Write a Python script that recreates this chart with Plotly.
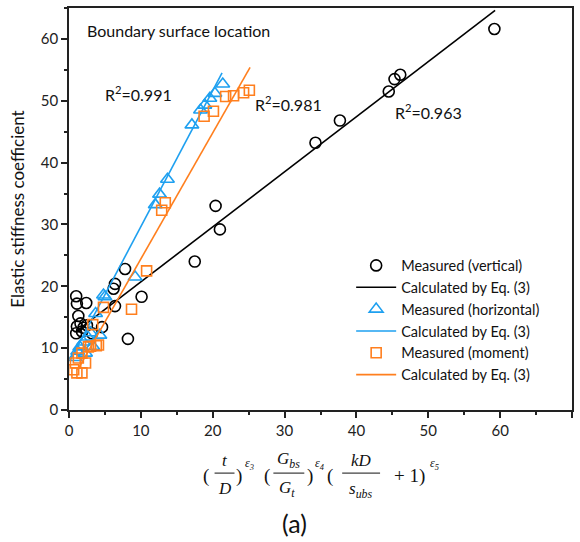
import plotly.graph_objects as go

# ---------------- data ----------------
vert_x = [1.0, 1.1, 2.4, 1.3, 1.6, 1.1, 2.5, 1.0, 1.8, 3.2, 2.0, 4.6, 6.4, 6.2, 6.4, 7.8, 8.2, 10.1,
          17.5, 21.0, 20.4, 34.3, 37.7, 44.5, 45.3, 46.1, 59.2]
vert_y = [18.4, 17.2, 17.3, 15.2, 14.0, 13.5, 13.7, 12.4, 12.7, 12.4, 13.3, 13.4, 16.8, 19.6, 20.4, 22.8, 11.5, 18.3,
          24.0, 29.2, 33.0, 43.2, 46.8, 51.5, 53.5, 54.2, 61.6]

hori_x = [0.8, 1.2, 1.5, 2.0, 2.3, 2.6, 3.0, 3.3, 3.7, 4.3, 4.8, 5.0, 9.2, 12.0, 12.6, 13.7,
          17.1, 18.3, 18.9, 19.6, 20.3, 21.4]
hori_y = [8.5, 9.5, 10.2, 11.0, 9.2, 11.8, 12.5, 10.3, 15.6, 12.1, 18.6, 18.3, 21.5, 33.2, 34.9, 37.3,
          46.1, 48.5, 49.3, 50.4, 51.2, 52.7]

mom_x = [0.65, 0.9, 1.1, 1.3, 1.8, 1.8, 2.3, 2.7, 3.0, 3.3, 3.8, 4.1, 4.8, 8.7, 10.8, 12.9, 13.4,
         18.8, 20.1, 21.8, 22.9, 24.3, 25.1]
mom_y = [6.5, 7.6, 6.0, 8.4, 9.2, 6.0, 7.6, 10.2, 10.3, 13.8, 10.4, 10.5, 16.6, 16.3, 22.5, 32.3, 33.5,
         47.5, 48.3, 50.7, 50.8, 51.3, 51.7]

fit_vert_x = [1.0, 59.3]
fit_vert_y = [12.7, 64.6]
fit_hori_x = [0.2, 21.3]
fit_hori_y = [8.1, 54.5]
fit_mom_x = [1.2, 25.2]
fit_mom_y = [6.5, 55.4]

x_ticks = [0, 10, 20, 30, 40, 50, 60, 70]
y_ticks = [0, 10, 20, 30, 40, 50, 60]

BLACK = "#000000"
BLUE = "#1ea0f0"
ORANGE = "#ff7f1e"
FONT = "Lato"

fig = go.Figure()
fig.add_trace(go.Scatter(x=vert_x, y=vert_y, mode="markers", name="Measured (vertical)",
                         marker=dict(symbol="circle-open", size=11, color=BLACK, line=dict(width=1.6))))
fig.add_trace(go.Scatter(x=fit_vert_x, y=fit_vert_y, mode="lines", name="Calculated by Eq. (3)",
                         line=dict(color=BLACK, width=1.6)))
fig.add_trace(go.Scatter(x=hori_x, y=hori_y, mode="markers", name="Measured (horizontal)",
                         marker=dict(symbol="triangle-up-open", size=12, color=BLUE, line=dict(width=1.6))))
fig.add_trace(go.Scatter(x=fit_hori_x, y=fit_hori_y, mode="lines", name="Calculated by Eq. (3)",
                         line=dict(color=BLUE, width=1.6)))
fig.add_trace(go.Scatter(x=mom_x, y=mom_y, mode="markers", name="Measured (moment)",
                         marker=dict(symbol="square-open", size=10, color=ORANGE, line=dict(width=1.6))))
fig.add_trace(go.Scatter(x=fit_mom_x, y=fit_mom_y, mode="lines", name="Calculated by Eq. (3)",
                         line=dict(color=ORANGE, width=1.6)))

L, R, T, B = 69, 6.5, 6, 131.5
W, H = 580, 542
PW, PH = W - L - R, H - T - B


def px(xp):
    return (xp - L) / PW


def py(yp):
    return 1 - (yp - T) / PH


axis_common = dict(showline=True, linecolor="#222222", linewidth=1.5, mirror=True,
                   ticks="outside", ticklen=6, tickwidth=1.5, tickcolor="#222222",
                   showgrid=False, zeroline=False,
                   tickfont=dict(family=FONT, size=15, color="#222222"),
                   minor=dict(ticks="outside", ticklen=3.5, tickwidth=1.5, tickcolor="#222222", dtick=5))

fig.update_xaxes(range=[0, 70], tickvals=x_ticks, **axis_common)
fig.update_yaxes(range=[0, 65], tickvals=y_ticks,
                 title=dict(text="Elastic stiffness coefficient", font=dict(family=FONT, size=17, color="#111111"),
                            standoff=12),
                 **axis_common)

ann = []
ann.append(dict(x=2.2, y=61.3, xref="x", yref="y", text="Boundary surface location", showarrow=False,
                xanchor="left", yanchor="middle", font=dict(family=FONT, size=16, color="#111111")))
for (xx, yy, t) in [(4.8, 51.2, "R<sup>2</sup>=0.991"), (25.6, 49.6, "R<sup>2</sup>=0.981"),
                    (45.1, 48.3, "R<sup>2</sup>=0.963")]:
    ann.append(dict(x=xx, y=yy, xref="x", yref="y", text=t, showarrow=False, xanchor="left",
                    yanchor="middle", font=dict(family=FONT, size=16, color="#111111")))

MF = "Liberation Serif"


def mtext(xp, yp, t, size=17, italic=True):
    ann.append(dict(x=px(xp), y=py(yp), xref="paper", yref="paper", text=t, showarrow=False,
                    xanchor="center", yanchor="middle",
                    font=dict(family=MF, size=size, color="#111111", style="italic" if italic else "normal")))


shapes = []


def bar(x0, x1, yp):
    shapes.append(dict(type="line", xref="paper", yref="paper", x0=px(x0), x1=px(x1), y0=py(yp), y1=py(yp),
                       line=dict(color="#111111", width=1)))


mtext(206, 477, "(", 19, False)
mtext(225, 461, "t")
bar(215, 235, 474)
mtext(225, 489, "D")
mtext(240, 477, ")", 19, False)
mtext(250, 465, "ε<sub>3</sub>", 12)
mtext(268, 477, "(", 19, False)
mtext(289, 461, "G<sub>bs</sub>")
bar(274, 305, 474)
mtext(288, 490, "G<sub>t</sub>")
mtext(311, 477, ")", 19, False)
mtext(320, 465, "ε<sub>4</sub>", 12)
mtext(331, 477, "(", 19, False)
mtext(362, 461, "kD")
bar(343, 381, 474)
mtext(362, 491, "s<sub>ubs</sub>")
mtext(411, 477, "+ 1)", 19, False)
mtext(436, 465, "ε<sub>5</sub>", 12)

ann.append(dict(x=px(295), y=py(524), xref="paper", yref="paper", text="(a)", showarrow=False,
                xanchor="center", yanchor="middle", font=dict(family=FONT, size=25, color="#111111")))

fig.update_layout(
    width=W, height=H, margin=dict(l=L, r=R, t=T, b=B),
    paper_bgcolor="white", plot_bgcolor="white",
    annotations=ann, shapes=shapes,
    showlegend=True,
    legend=dict(x=px(352), y=py(249), xanchor="left", yanchor="top", bgcolor="rgba(0,0,0,0)",
                font=dict(family=FONT, size=14.5, color="#111111"), tracegroupgap=0, itemwidth=40),
    font=dict(family=FONT),
)

fig.write_html("out.html")
